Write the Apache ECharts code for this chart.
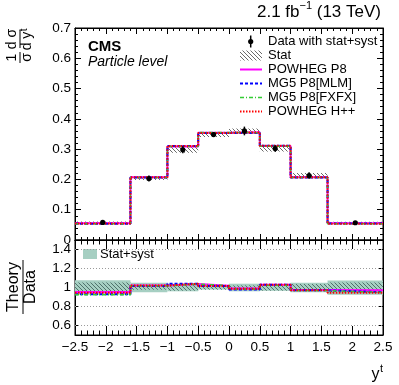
<!DOCTYPE html>
<html>
<head>
<meta charset="utf-8">
<script src="https://cdn.jsdelivr.net/npm/echarts@6/dist/echarts.min.js"></script>
<style>
  html, body { margin: 0; padding: 0; background: #fff; }
  #chart { width: 399px; height: 385px; }
</style>
</head>
<body>
<div id="chart"></div>
<script>
// bins in y^t
const binEdges = [-2.5, -1.6, -1.0, -0.5, 0, 0.5, 1.0, 1.6, 2.5]
// normalised data, stat error (absolute) and stat+syst (relative)
const dataVals = [0.058, 0.203, 0.298, 0.348, 0.360, 0.302, 0.213, 0.057]
const statErr = [0.003, 0.005, 0.010, 0.008, 0.008, 0.010, 0.008, 0.003]
const totRelErr = [0.077, 0.050, 0.040, 0.022, 0.040, 0.035, 0.050, 0.075]
// predictions, upper panel
const powhegP8 = [0.0552, 0.207, 0.309, 0.354, 0.356, 0.310, 0.207, 0.0553]
const mg5Mlm = [0.0540, 0.206, 0.310, 0.353, 0.353, 0.311, 0.206, 0.0541]
const mg5Fxfx = [0.0537, 0.2065, 0.3085, 0.355, 0.3545, 0.3095, 0.206, 0.0540]
const powhegHpp = [0.0548, 0.207, 0.310, 0.3535, 0.3555, 0.311, 0.207, 0.0539]
// theory / data, lower panel
const ratioP8 = [0.952, 1.020, 1.038, 1.018, 0.990, 1.028, 0.975, 0.972]
const ratioMlm = [0.930, 1.015, 1.040, 1.015, 0.980, 1.030, 0.970, 0.950]
const ratioFxfx = [0.925, 1.018, 1.036, 1.020, 0.985, 1.025, 0.968, 0.948]
const ratioHpp = [0.945, 1.020, 1.040, 1.016, 0.988, 1.030, 0.972, 0.945]
// ratio axis labels and dotted grid lines
const ratioLabels = [0.6, 0.8, 1, 1.2, 1.4]
const ratioGrid = [0.6, 0.8, 1, 1.2, 1.4]

const FONT = '"Liberation Sans", Arial, Helvetica, sans-serif'
const measure = document.createElement('canvas').getContext('2d')
function textW(str, font) {
  measure.font = font
  return measure.measureText(str).width
}

function makeHatch(step, color, width, bg) {
  const c = document.createElement('canvas')
  c.width = step
  c.height = step
  const g = c.getContext('2d')
  if (bg) {
    g.fillStyle = bg
    g.fillRect(0, 0, step, step)
  }
  g.strokeStyle = color
  g.lineWidth = width
  g.beginPath()
  g.moveTo(-1, -1); g.lineTo(step + 1, step + 1)
  g.moveTo(-1, step - 1); g.lineTo(1, step + 1)
  g.moveTo(step - 1, -1); g.lineTo(step + 1, 1)
  g.stroke()
  return {type: 'pattern', image: c, repeat: 'repeat'}
}
const hatchTop = makeHatch(4, '#444', 0.8)
const hatchRatio = makeHatch(4, '#3a5a55', 0.8)
const TEAL = '#a6cfc2'

const models = [
  {name: 'POWHEG P8', top: powhegP8, ratio: ratioP8, color: '#ff00ff', dash: 'solid', width: 2},
  {name: 'MG5 P8[MLM]', top: mg5Mlm, ratio: ratioMlm, color: '#0000ff', dash: [3, 2], width: 2},
  {name: 'MG5 P8[FXFX]', top: mg5Fxfx, ratio: ratioFxfx, color: '#33cc33', dash: [4, 2, 1, 2], width: 1.5},
  {name: 'POWHEG H++', top: powhegHpp, ratio: ratioHpp, color: '#ff0000', dash: [1.5, 1.5], width: 2}
]

// histogram outline as a list of points
function stepPoints(vals) {
  const pts = []
  for (let i = 0; i < vals.length; i++) {
    pts.push([binEdges[i], vals[i]])
    pts.push([binEdges[i + 1], vals[i]])
  }
  return pts
}

const tickFmt = v => String(+(+v).toFixed(2)).replace('-', '\u2212')

function rectItem(params, api) {
  const p1 = api.coord([api.value(0), api.value(3)])
  const p2 = api.coord([api.value(1), api.value(2)])
  return {
    type: 'rect',
    shape: {x: p1[0], y: p1[1], width: p2[0] - p1[0], height: p2[1] - p1[1]},
    style: {fill: api.value(4) === 1 ? TEAL : (api.value(4) === 2 ? hatchRatio : hatchTop)}
  }
}

function xAx(gi, pos, labels, len) {
  return {
    type: 'value', gridIndex: gi, position: pos, min: -2.5, max: 2.5, interval: 0.5,
    axisLine: {show: true, onZero: false, lineStyle: {color: '#000', width: 1}},
    axisTick: {show: true, inside: true, length: len, lineStyle: {color: '#000', width: 1}},
    minorTick: {show: true, splitNumber: 5, length: len / 2, lineStyle: {color: '#000', width: 1}},
    axisLabel: {show: labels, margin: 5, color: '#000', fontSize: 13.5, fontFamily: FONT, formatter: tickFmt},
    splitLine: {show: false}
  }
}

function yTop(pos, labels) {
  return {
    type: 'value', gridIndex: 0, position: pos, min: 0, max: 0.7, interval: 0.1,
    axisLine: {show: true, onZero: false, lineStyle: {color: '#000', width: 1}},
    axisTick: {show: true, inside: true, length: 6, lineStyle: {color: '#000', width: 1}},
    minorTick: {show: true, splitNumber: 5, length: 3, lineStyle: {color: '#000', width: 1}},
    axisLabel: {show: labels, margin: 4, color: '#000', fontSize: 13.5, fontFamily: FONT, formatter: tickFmt},
    splitLine: {show: false}
  }
}

function yRatio(pos, labels) {
  return {
    type: 'value', gridIndex: 1, position: pos, min: 0.5, max: 1.5, interval: 0.1,
    axisLine: {show: true, onZero: false, lineStyle: {color: '#000', width: 1}},
    axisTick: {show: true, inside: true, length: 4, customValues: ratioLabels, lineStyle: {color: '#000', width: 1}},
    axisLabel: {
      show: labels, margin: 4, color: '#000', fontSize: 13.5, fontFamily: FONT,
      formatter: v => ratioLabels.indexOf(+(+v).toFixed(2)) >= 0 ? tickFmt(v) : ''
    },
    splitLine: {show: false}
  }
}

const series = []

// dotted grid lines of the ratio panel
series.push({
  type: 'custom', xAxisIndex: 2, yAxisIndex: 2, z: 1, silent: true,
  encode: {x: 0, y: 1},
  data: ratioGrid.map(v => [binEdges[0], v]),
  renderItem(params, api) {
    const cs = params.coordSys
    const y = api.coord([api.value(0), api.value(1)])[1]
    return {
      type: 'line',
      shape: {x1: cs.x, y1: y, x2: cs.x + cs.width, y2: y},
      style: {stroke: '#9a9a9a', lineWidth: 1, lineDash: [1, 2]}
    }
  }
})

// stat+syst band and stat hatch in the ratio panel
series.push({
  type: 'custom', xAxisIndex: 2, yAxisIndex: 2, z: 2, silent: true,
  encode: {x: [0, 1], y: [2, 3]},
  data: dataVals.map((d, i) => [binEdges[i], binEdges[i + 1], 1 - totRelErr[i], 1 + totRelErr[i], 1]),
  renderItem: rectItem
})
series.push({
  type: 'custom', xAxisIndex: 2, yAxisIndex: 2, z: 3, silent: true,
  encode: {x: [0, 1], y: [2, 3]},
  data: dataVals.map((d, i) => [binEdges[i], binEdges[i + 1], 1 - statErr[i] / d, 1 + statErr[i] / d, 2]),
  renderItem: rectItem
})

// stat hatch in the upper panel
series.push({
  type: 'custom', xAxisIndex: 0, yAxisIndex: 0, z: 2, silent: true,
  encode: {x: [0, 1], y: [2, 3]},
  data: dataVals.map((d, i) => [binEdges[i], binEdges[i + 1], d - statErr[i], d + statErr[i], 0]),
  renderItem: rectItem
})

models.forEach((m, k) => {
  const ls = {color: m.color, width: m.width, type: m.dash}
  series.push({
    name: m.name, type: 'line', xAxisIndex: 0, yAxisIndex: 0, z: 4 + k,
    showSymbol: false, symbol: 'none', silent: true, lineStyle: ls, itemStyle: {color: m.color},
    data: stepPoints(m.top)
  })
  series.push({
    name: m.name + ' ratio', type: 'line', xAxisIndex: 2, yAxisIndex: 2, z: 4 + k,
    showSymbol: false, symbol: 'none', silent: true, lineStyle: ls, itemStyle: {color: m.color},
    data: stepPoints(m.ratio)
  })
})

// data points with stat+syst error bars
series.push({
  type: 'custom', xAxisIndex: 0, yAxisIndex: 0, z: 10, silent: true,
  encode: {x: 0, y: 1},
  data: dataVals.map((d, i) => [(binEdges[i] + binEdges[i + 1]) / 2, d, d * totRelErr[i]]),
  renderItem(params, api) {
    const x = api.value(0), y = api.value(1), e = api.value(2)
    const p = api.coord([x, y])
    const lo = api.coord([x, y - e])
    const hi = api.coord([x, y + e])
    return {
      type: 'group',
      children: [
        {type: 'line', shape: {x1: p[0], y1: lo[1], x2: p[0], y2: hi[1]}, style: {stroke: '#000', lineWidth: 1.5}},
        {type: 'circle', shape: {cx: p[0], cy: p[1], r: 2.6}, style: {fill: '#000'}}
      ]
    }
  }
})

// ---- text and legend ----
const graphic = []
function txt(text, x, y, font, align, valign, extra) {
  return Object.assign({
    type: 'text', x: x, y: y, silent: true,
    style: {text: text, font: font, fill: '#000', align: align, textAlign: align,
      verticalAlign: valign, textVerticalAlign: valign}
  }, extra || {})
}

// luminosity label
const fMain = '17px ' + FONT
const fSup = '11px ' + FONT
const partB = ' (13 TeV)'
const partS = '\u22121'
const partA = '2.1 fb'
const xb = 381 - textW(partB, fMain)
const xs = xb - textW(partS, fSup)
const xa = xs - textW(partA, fMain)
graphic.push(txt(partA, xa, 12.5, fMain, 'left', 'middle'))
graphic.push(txt(partS, xs, 6, fSup, 'left', 'middle'))
graphic.push(txt(partB, xb, 12.5, fMain, 'left', 'middle'))

graphic.push(txt('CMS', 88, 46.5, 'bold 15px ' + FONT, 'left', 'middle'))
graphic.push(txt('Particle level', 88, 62, 'italic 14px ' + FONT, 'left', 'middle'))

// upper y title: 1/sigma dsigma/dy^t, rotated
const fT = '14px ' + FONT
const dyW = textW('d y', fT)
graphic.push({
  type: 'group', x: 20, y: 63, rotation: Math.PI / 2, silent: true,
  children: [
    txt('1', 5.5, -1, fT, 'center', 'bottom'),
    {type: 'line', shape: {x1: 0, y1: 0, x2: 11, y2: 0}, style: {stroke: '#000', lineWidth: 1}},
    txt('\u03c3', 5.5, 0.5, fT, 'center', 'top'),
    txt('d \u03c3', 24, -1, fT, 'center', 'bottom'),
    {type: 'line', shape: {x1: 15, y1: 0, x2: 33, y2: 0}, style: {stroke: '#000', lineWidth: 1}},
    txt('d y', 22 - dyW / 2, 0.5, fT, 'left', 'top'),
    txt('t', 22 + dyW / 2 + 0.5, -1, '10px ' + FONT, 'left', 'top')
  ]
})

// lower y title: Theory / Data
const fR = '16px ' + FONT
graphic.push({
  type: 'group', x: 23, y: 314, rotation: Math.PI / 2, silent: true,
  children: [
    txt('Theory', 27, -1, fR, 'center', 'bottom'),
    {type: 'line', shape: {x1: 0, y1: 0, x2: 54, y2: 0}, style: {stroke: '#000', lineWidth: 1}},
    txt('Data', 27, 0, fR, 'center', 'top')
  ]
})

// x title y^t
graphic.push(txt('y', 371.5, 374.5, '16px ' + FONT, 'left', 'middle'))
graphic.push(txt('t', 371.5 + textW('y', '16px ' + FONT) + 0.5, 368.5, '11px ' + FONT, 'left', 'middle'))

// legend, upper panel
const fL = '13px ' + FONT
const rowY = [41.5, 55.5, 69.5, 83.5, 97.5, 111.5]
const legendNames = ['Data with stat+syst', 'Stat'].concat(models.map(m => m.name))
legendNames.forEach((n, i) => graphic.push(txt(n, 268, rowY[i], fL, 'left', 'middle')))
graphic.push({type: 'line', silent: true, shape: {x1: 250.7, y1: rowY[0] - 6, x2: 250.7, y2: rowY[0] + 6}, style: {stroke: '#000', lineWidth: 1.5}})
graphic.push({type: 'circle', silent: true, shape: {cx: 250.7, cy: rowY[0], r: 2.6}, style: {fill: '#000'}})
graphic.push({type: 'rect', silent: true, shape: {x: 240, y: rowY[1] - 5, width: 22, height: 10}, style: {fill: hatchTop}})
models.forEach((m, k) => {
  graphic.push({
    type: 'line', silent: true,
    shape: {x1: 240, y1: rowY[k + 2], x2: 262, y2: rowY[k + 2]},
    style: {stroke: m.color, lineWidth: m.width, lineDash: m.dash === 'solid' ? null : m.dash}
  })
})

// legend, ratio panel
graphic.push({type: 'rect', silent: true, shape: {x: 83, y: 249, width: 14, height: 10}, style: {fill: TEAL}})
graphic.push(txt('Stat+syst', 100, 254, fL, 'left', 'middle'))

const chart = echarts.init(document.getElementById('chart'))
chart.setOption({
  animation: false,
  backgroundColor: '#fff',
  grid: [
    {left: 75, top: 28, width: 308, height: 212, show: true, borderColor: '#000', borderWidth: 1, backgroundColor: 'transparent'},
    {left: 75, top: 240, width: 308, height: 95, show: true, borderColor: '#000', borderWidth: 1, backgroundColor: 'transparent'}
  ],
  xAxis: [
    xAx(0, 'bottom', false, 6),
    xAx(0, 'top', false, 6),
    xAx(1, 'bottom', true, 9),
    xAx(1, 'top', false, 9)
  ],
  yAxis: [
    yTop('left', true),
    yTop('right', false),
    yRatio('left', true),
    yRatio('right', false)
  ],
  series: series,
  graphic: graphic
})
</script>
</body>
</html>
